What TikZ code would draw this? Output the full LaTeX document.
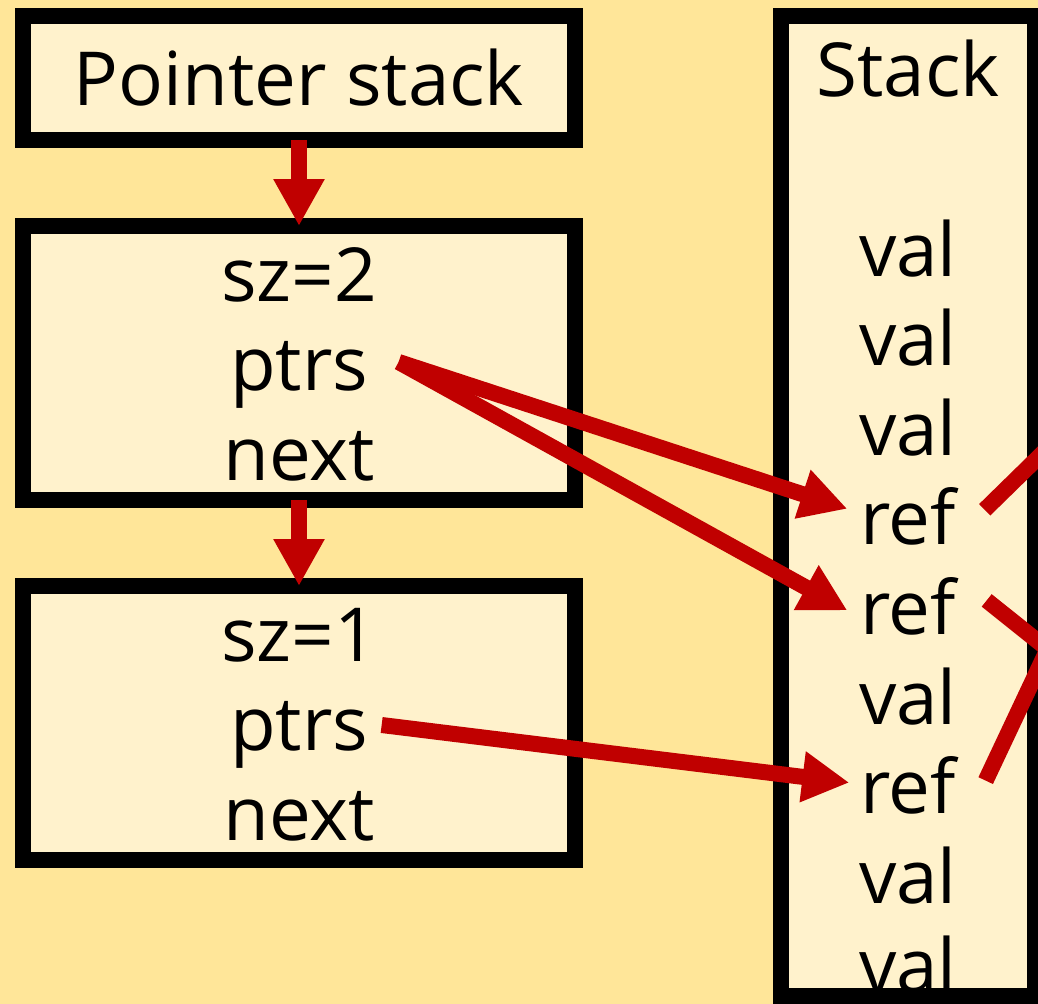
\documentclass[tikz,border=0pt]{standalone}
\usepackage{fontspec}
\setmainfont{Open Sans}
\usetikzlibrary{arrows.meta,positioning}

\definecolor{bggold}{HTML}{FFE699}
\definecolor{cellfill}{HTML}{FFF2CC}
\definecolor{ptrred}{HTML}{C00000}

\tikzset{
  frame/.style={draw=black, line width=1.6mm, fill=cellfill, inner sep=0pt, outer sep=0pt},
  word/.style={font=\fontsize{21.2}{25}\selectfont, inner sep=0pt, anchor=base},
  link/.style={draw=ptrred, line width=1.6mm, -{Triangle[length=4.7mm,width=4.8mm]}},
  strand/.style={draw=ptrred, line width=1.6mm}
}

\begin{document}
\begin{tikzpicture}
    % Canvas and background
    \useasboundingbox (0,0) rectangle (10.38,-10.04);
    \fill[bggold] (0,0) rectangle (10.38,-10.04);
    \clip (0,0) rectangle (10.38,-10.04);

    % The pointer stack: a header and two frames
    \node[frame, minimum width=5.52cm, minimum height=1.24cm] (pstack) at (2.99,-0.78) {};
    \node[frame, minimum width=5.52cm, minimum height=2.74cm] (framea) at (2.99,-3.63) {};
    \node[frame, minimum width=5.52cm, minimum height=2.74cm] (frameb) at (2.99,-7.23) {};

    % The value stack (border drawn after its texts)
    \node[frame, draw=none, minimum width=2.54cm, minimum height=9.80cm] (stack) at (9.08,-5.06) {};

    % Texts of the pointer stack
    \node[word] (ptitle) at (2.99,-1.05) {Pointer stack};
    \node[word] (sza)   at (2.99,-3.01) {sz=2};
    \node[word] (ptrsa) at (2.99,-3.90) {ptrs};
    \node[word] (nexta) at (2.99,-4.80) {next};
    \node[word] (szb)   at (2.99,-6.61) {sz=1};
    \node[word] (ptrsb) at (2.99,-7.50) {ptrs};
    \node[word] (nextb) at (2.99,-8.40) {next};

    % Texts of the value stack
    \node[word] (stitle) at (9.08,-0.96) {Stack};
    \foreach \txt [count=\i] in {val,val,val,ref,ref,val,ref,val,val}
        \node[word] (s\i) at (9.08,{-2.76-0.896*(\i-1)}) {\txt};

    \draw[line width=1.6mm] (stack.north west) rectangle (stack.south east);

    % Links between the frames
    \draw[link] (pstack.south) -- (framea.north);
    \draw[link] (framea.south) -- (frameb.north);

    % Pointers into the stack
    \draw[link] ([xshift=3mm,yshift=2.8mm]ptrsa.base east) -- ([xshift=-1.2mm,yshift=3.6mm]s4.base west);
    \draw[link] ([xshift=3mm,yshift=2.8mm]ptrsa.base east) -- ([xshift=-1.2mm,yshift=2.4mm]s5.base west);
    \draw[link] ([xshift=1.3mm,yshift=2.5mm]ptrsb.base east) -- ([xshift=-1mm,yshift=3.1mm]s7.base west);

    % References leaving the stack to the right
    \coordinate (outa) at (11.00,-3.97);
    \coordinate (outb) at (11.00,-6.91);
    \coordinate (outc) at (11.00,-5.38);
    \draw[strand] ([xshift=2.8mm,yshift=3.5mm]s4.base east) -- (outa);
    \draw[strand] ([xshift=3mm,yshift=3.4mm]s5.base east) -- (outb);
    \draw[strand] ([xshift=2.9mm,yshift=3.3mm]s7.base east) -- (outc);
\end{tikzpicture}
\end{document}
